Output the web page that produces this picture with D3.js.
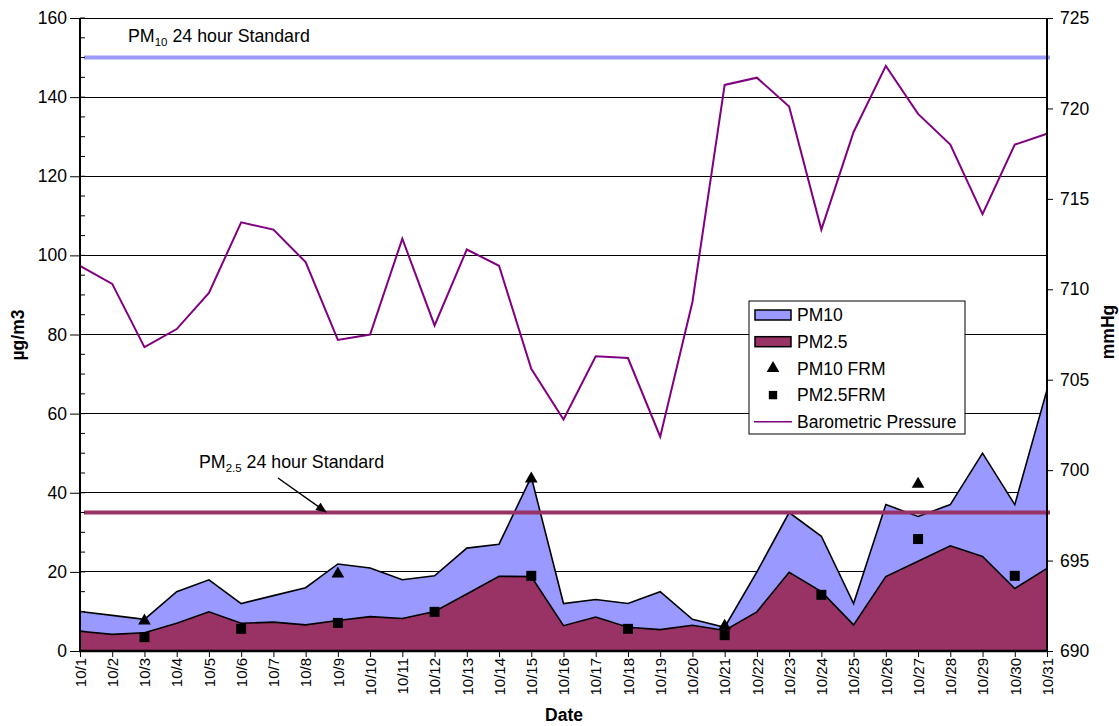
<!DOCTYPE html>
<html>
<head>
<meta charset="utf-8">
<script src="https://cdn.jsdelivr.net/npm/d3@7"></script>
<style>
  html, body { margin: 0; padding: 0; background: #fff; }
  svg { display: block; font-family: Arial, "Liberation Sans", sans-serif; }
</style>
</head>
<body>
<svg id="chart" width="1119" height="726"></svg>
<script>
// ---------- data ----------
const dates = ["10/1","10/2","10/3","10/4","10/5","10/6","10/7","10/8","10/9","10/10",
  "10/11","10/12","10/13","10/14","10/15","10/16","10/17","10/18","10/19","10/20",
  "10/21","10/22","10/23","10/24","10/25","10/26","10/27","10/28","10/29","10/30","10/31"];
const pm10 = [10, 9, 8, 15, 18, 12, 14, 16, 22, 21,
  18, 19, 26, 27, 44, 12, 13, 12, 15, 8,
  6, 20, 35, 29, 12, 37, 34, 37, 50, 37, 66];
const pm25 = [5, 4.2, 4.6, 7, 9.9, 7, 7.3, 6.6, 7.7, 8.7,
  8.2, 10, 14.4, 18.9, 18.8, 6.4, 8.6, 6, 5.4, 6.5,
  5.2, 9.9, 19.9, 15, 6.6, 18.8, 22.7, 26.6, 23.9, 15.8, 20.9];
const frm10Dates = ["10/3","10/9","10/15","10/21","10/27"];
const frm10Values = [7.6, 19.5, 43.5, 6.3, 42.2];
const frm25Dates = ["10/3","10/6","10/9","10/12","10/15","10/18","10/21","10/24","10/27","10/30"];
const frm25Values = [3.5, 5.6, 7.1, 9.9, 19.0, 5.6, 4.0, 14.2, 28.3, 19.0];
const pressure = [711.3, 710.3, 706.8, 707.8, 709.8, 713.7, 713.3, 711.5, 707.2, 707.5,
  712.8, 708.0, 712.2, 711.3, 705.6, 702.8, 706.3, 706.2, 701.85, 709.3,
  721.3, 721.7, 720.1, 713.3, 718.7, 722.35, 719.7, 718.0, 714.15, 718.0, 718.6];
const pm10Standard = 150;
const pm25Standard = 35;
const leftTicks = [0, 20, 40, 60, 80, 100, 120, 140, 160];
const leftMinorTicks = d3.range(0, 161, 5);
const rightTicks = [690, 695, 700, 705, 710, 715, 720, 725];
const legendItems = ["PM10", "PM2.5", "PM10 FRM", "PM2.5FRM", "Barometric Pressure"];

// ---------- layout ----------
const L = 80, R = 1047, T = 18, B = 651;
const FONT = "Arial, 'Liberation Sans', sans-serif";
const svg = d3.select("#chart");
const x = d3.scalePoint().domain(dates).range([L, R]);
const y = d3.scaleLinear().domain([0, 160]).range([B, T]);
const y2 = d3.scaleLinear().domain([690, 725]).range([B, T]);

const C10 = "#9999ff", C25 = "#993366", CP = "#800080";

// gridlines
svg.append("g").selectAll("line").data(leftTicks.filter(d => d > 0)).join("line")
  .attr("x1", L).attr("x2", R).attr("y1", d => y(d)).attr("y2", d => y(d))
  .attr("stroke", "#000").attr("stroke-width", 1).attr("shape-rendering", "crispEdges");

// areas
const area10 = d3.area().x((d, i) => x(dates[i])).y0(y(0)).y1(d => y(d));
const line10 = d3.line().x((d, i) => x(dates[i])).y(d => y(d));
svg.append("path").datum(pm10).attr("d", area10).attr("fill", C10);
svg.append("path").datum(pm10).attr("d", line10).attr("fill", "none").attr("stroke", "#000").attr("stroke-width", 1.6);
svg.append("path").datum(pm25).attr("d", area10).attr("fill", C25);
svg.append("path").datum(pm25).attr("d", line10).attr("fill", "none").attr("stroke", "#000").attr("stroke-width", 1.6);

// standards
svg.append("line").attr("x1", 84).attr("x2", 1050).attr("y1", y(pm10Standard)).attr("y2", y(pm10Standard))
  .attr("stroke", C10).attr("stroke-width", 4);
svg.append("line").attr("x1", 84).attr("x2", 1050).attr("y1", y(pm25Standard)).attr("y2", y(pm25Standard))
  .attr("stroke", C25).attr("stroke-width", 4);

// pressure
svg.append("path").datum(pressure)
  .attr("d", d3.line().x((d, i) => x(dates[i])).y(d => y2(d)))
  .attr("fill", "none").attr("stroke", CP).attr("stroke-width", 2);

// markers
const tri = d3.symbol().type(d3.symbolTriangle).size(70);
const sq = d3.symbol().type(d3.symbolSquare).size(100);
svg.append("g").selectAll("path").data(frm10Values).join("path")
  .attr("d", tri).attr("transform", (d, i) => `translate(${x(frm10Dates[i])},${y(d)})`).attr("fill", "#000");
svg.append("g").selectAll("path").data(frm25Values).join("path")
  .attr("d", sq).attr("transform", (d, i) => `translate(${x(frm25Dates[i])},${y(d)})`).attr("fill", "#000");

// axes
const axL = svg.append("g").attr("transform", `translate(${L},0)`)
  .call(d3.axisLeft(y).tickValues(leftTicks).tickSize(10).tickPadding(3));
axL.select(".domain").remove();
axL.selectAll("line").attr("stroke", "#000");
axL.selectAll("text").attr("font-size", 17.5).attr("fill", "#000").style("font-family", FONT);
svg.append("g").selectAll("line").data(leftMinorTicks).join("line")
  .attr("x1", L).attr("x2", L + 5).attr("y1", d => y(d)).attr("y2", d => y(d)).attr("stroke", "#000");
svg.append("line").attr("x1", L).attr("x2", L).attr("y1", T).attr("y2", B).attr("stroke", "#000").attr("stroke-width", 2);

const axR = svg.append("g").attr("transform", `translate(${R},0)`)
  .call(d3.axisRight(y2).tickValues(rightTicks).tickSize(6).tickPadding(7));
axR.select(".domain").remove();
axR.selectAll("line").attr("stroke", "#000");
axR.selectAll("text").attr("font-size", 17.5).attr("fill", "#000").style("font-family", FONT);
svg.append("line").attr("x1", R).attr("x2", R).attr("y1", T).attr("y2", B).attr("stroke", "#000").attr("stroke-width", 2);

const axB = svg.append("g").attr("transform", `translate(0,${B})`)
  .call(d3.axisBottom(x).tickSize(6).tickPadding(0));
axB.select(".domain").remove();
axB.selectAll("line").attr("stroke", "#000");
axB.selectAll("text").attr("font-size", 15).attr("fill", "#000")
  .style("font-family", FONT)
  .attr("text-anchor", "end").attr("transform", "rotate(-90)")
  .attr("x", -7).attr("y", 0).attr("dy", "0.35em");
svg.append("line").attr("x1", L - 1).attr("x2", R + 1).attr("y1", B).attr("y2", B).attr("stroke", "#000").attr("stroke-width", 2.5);

// axis titles
svg.append("text").attr("x", 564).attr("y", 721).attr("text-anchor", "middle")
  .attr("font-size", 17.5).attr("font-weight", "bold").text("Date");
svg.append("text").attr("transform", "translate(24,335) rotate(-90)").attr("text-anchor", "middle")
  .attr("font-size", 17.5).attr("font-weight", "bold").text("µg/m3");
svg.append("text").attr("transform", "translate(1114,332) rotate(-90)").attr("text-anchor", "middle")
  .attr("font-size", 17.5).attr("font-weight", "bold").text("mmHg");

// annotations
const a1 = svg.append("text").attr("x", 128).attr("y", 42).attr("font-size", 17.8);
a1.append("tspan").text("PM");
a1.append("tspan").attr("font-size", 11.5).attr("dy", 4).text("10");
a1.append("tspan").attr("dy", -4).text(" 24 hour Standard");
const a2 = svg.append("text").attr("x", 199).attr("y", 468).attr("font-size", 17.8);
a2.append("tspan").text("PM");
a2.append("tspan").attr("font-size", 11.5).attr("dy", 4).text("2.5");
a2.append("tspan").attr("dy", -4).text(" 24 hour Standard");
svg.append("defs").append("marker").attr("id", "arr").attr("viewBox", "0 0 12 10")
  .attr("refX", 11).attr("refY", 5).attr("markerWidth", 12).attr("markerHeight", 9)
  .attr("markerUnits", "userSpaceOnUse").attr("orient", "auto")
  .append("path").attr("d", "M0,0 L12,5 L0,10 z").attr("fill", "#000");
svg.append("line").attr("x1", 278).attr("y1", 478).attr("x2", 326).attr("y2", 512)
  .attr("stroke", "#000").attr("stroke-width", 1.5).attr("marker-end", "url(#arr)");

// legend
const lg = svg.append("g");
lg.append("rect").attr("x", 749).attr("y", 301).attr("width", 216).attr("height", 133)
  .attr("fill", "#fff").attr("stroke", "#000").attr("stroke-width", 1);
const rowY = i => 315 + i * 26.7;
lg.selectAll("text").data(legendItems).join("text")
  .attr("x", 797).attr("y", (d, i) => rowY(i)).attr("dy", "0.35em").attr("font-size", 17.5).text(d => d);
lg.append("rect").attr("x", 755).attr("y", rowY(0) - 5).attr("width", 36).attr("height", 10)
  .attr("fill", C10).attr("stroke", "#000").attr("stroke-width", 1.5);
lg.append("rect").attr("x", 755).attr("y", rowY(1) - 5).attr("width", 36).attr("height", 10)
  .attr("fill", C25).attr("stroke", "#000").attr("stroke-width", 1.5);
lg.append("path").attr("d", tri).attr("transform", `translate(773,${rowY(2)})`).attr("fill", "#000");
lg.append("path").attr("d", d3.symbol().type(d3.symbolSquare).size(70)).attr("transform", `translate(773,${rowY(3)})`).attr("fill", "#000");
lg.append("line").attr("x1", 754).attr("x2", 792).attr("y1", rowY(4)).attr("y2", rowY(4))
  .attr("stroke", CP).attr("stroke-width", 1.5);
</script>
</body>
</html>
